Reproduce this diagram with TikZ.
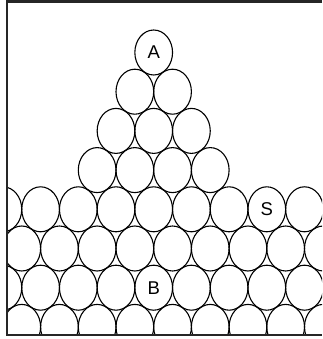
\documentclass[tikz,border=0pt]{standalone}
\usepackage{fontspec}
\setmainfont{Liberation Sans}
\begin{document}
\begin{tikzpicture}[
    x=1pt, y=-1pt,
    ball/.style={
        draw=black,
        line width=1.1pt
    },
    frame/.style={
        draw=black!85,
        line width=2.2pt
    },
    lbl/.style={
        font=\fontsize{18.5}{18.5}\selectfont,
        inner sep=0pt
    }
]
\useasboundingbox (0,0) rectangle (322,339);

\begin{scope}
\clip (7,0) rectangle (322,335);
% heap on top
\foreach \r in {0,...,3} {
    \foreach \i in {0,...,\r} {
        \draw[ball] ({153.7-18.85*\r+37.7*\i},{52.5+39.2*\r}) ellipse [x radius=18.85, y radius=22.5];
    }
}
% packed bed
\foreach \r in {0,...,3} {
    \foreach \k in {-5,...,5} {
        \draw[ball] ({153.7+37.7*\k+18.85*mod(\r,2)},{209.3+39.2*\r}) ellipse [x radius=18.85, y radius=22.5];
    }
}
\end{scope}

\draw[frame] (322,1.5) -- (7,1.5) -- (7,335) -- (322,335);

\node[lbl] (A) at (153.7,52.5) {A};
\node[lbl] (S) at (266.8,209.3) {S};
\node[lbl] (B) at (153.7,287.7) {B};

\end{tikzpicture}
\end{document}
